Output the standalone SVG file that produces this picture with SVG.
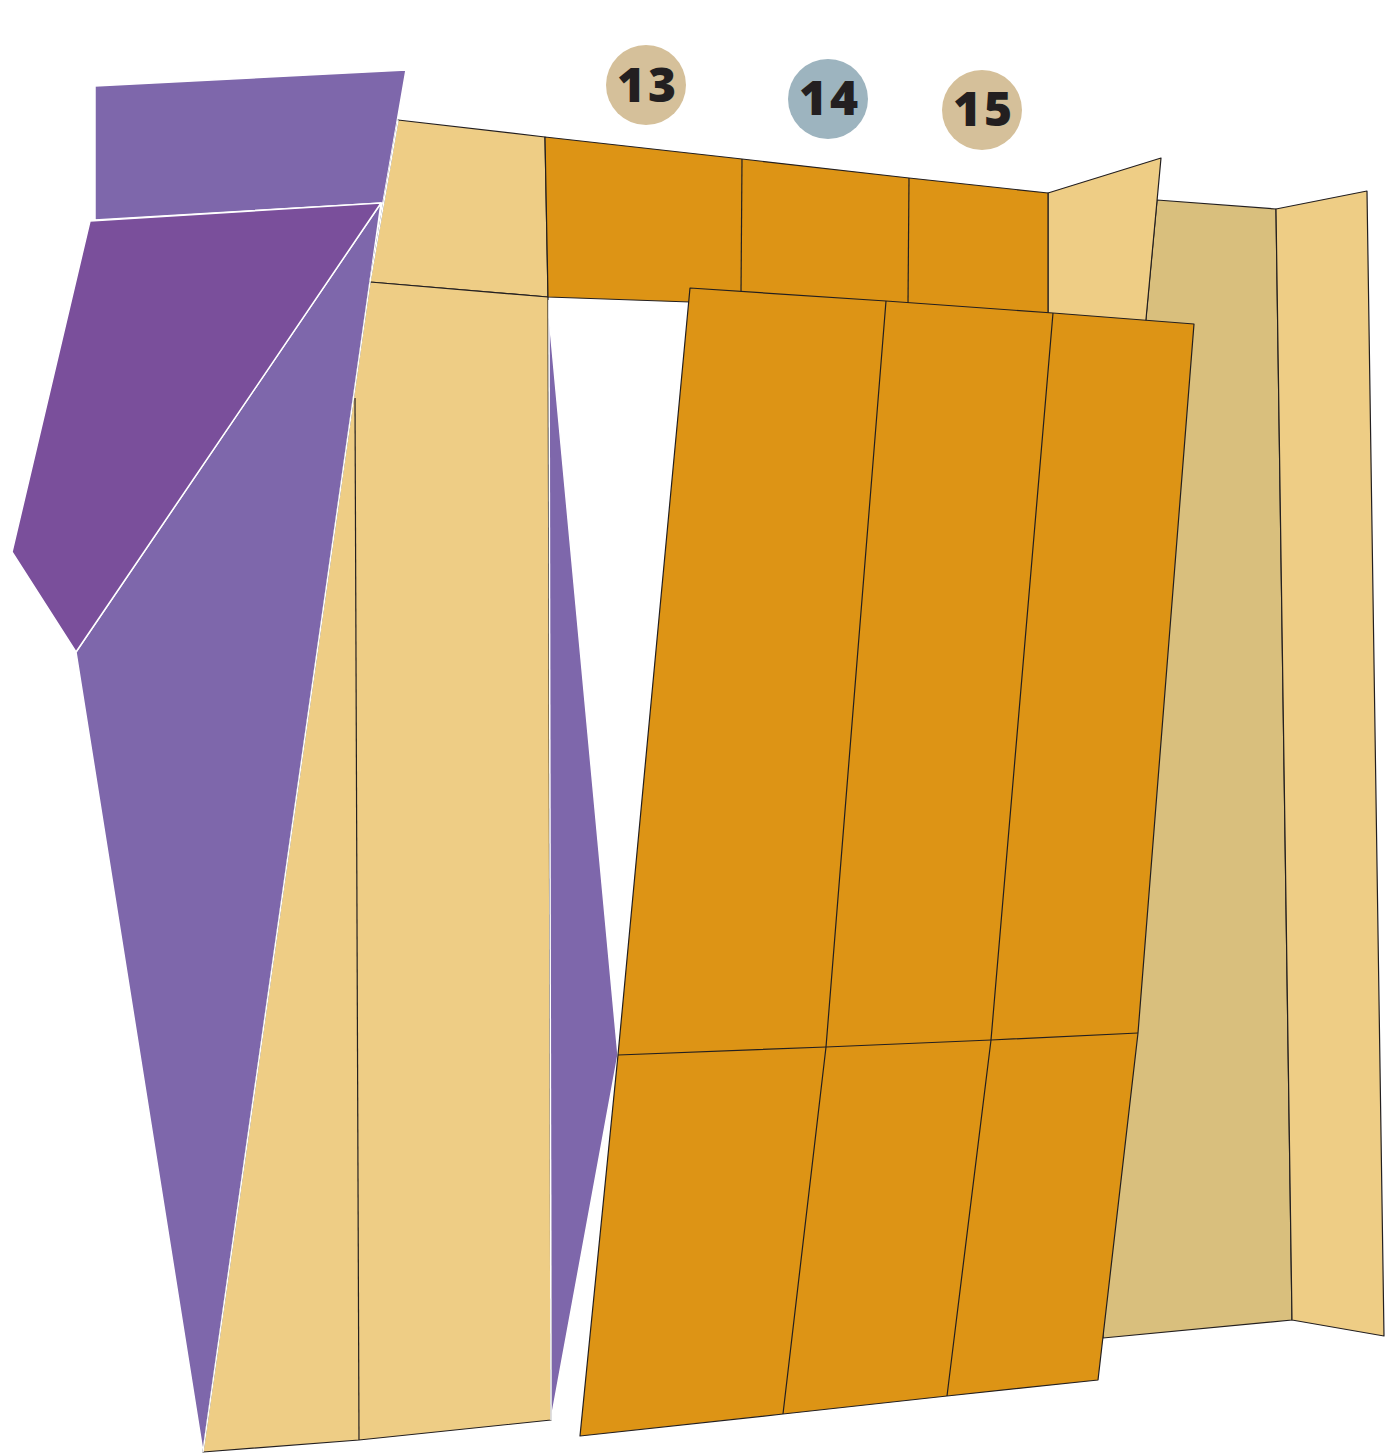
<svg xmlns="http://www.w3.org/2000/svg" width="1386" height="1455" viewBox="0 0 1386 1455">
<style>
.pl{fill:#7e67ab;stroke:#fff;stroke-width:1.5;stroke-linejoin:round}
.pd{fill:#7a4f9b;stroke:#fff;stroke-width:1.5;stroke-linejoin:round}
.tan{fill:#eecd85;stroke:#231f20;stroke-width:1.2;stroke-linejoin:round}
.beige{fill:#d9bf7d;stroke:#231f20;stroke-width:1.2;stroke-linejoin:round}
.or{fill:#dd9415;stroke:#231f20;stroke-width:1.2;stroke-linejoin:round}
.ln{fill:none;stroke:#231f20;stroke-width:1.2}
.wl{fill:none;stroke:#fff;stroke-width:1.5}
.num{font-family:"Open Sans","Noto Sans",sans-serif;font-weight:800;font-size:48px;letter-spacing:3px;fill:#231f20;text-anchor:middle}
</style>
<rect width="1386" height="1455" fill="#fff"/>
<g id="purple">
<polygon class="pl" points="95,86 406,70 383,203 95,220"/>
<polygon class="pl" points="381,203 370,282 203,1452 76,652"/>
<polygon class="pd" points="90,221 381,203 76,652 12,552"/>
<polygon class="pl" points="548,305 618,1055 551,1420"/>
</g>
<g id="right-walls">
<polygon class="beige" points="1157,200 1276,209 1292,1320 1103,1338 1110,700"/>
<polygon class="tan" points="1276,209 1367,191 1384,1336 1292,1320"/>
<polygon class="tan" points="1048,193 1161,158 1145,330 1048,320"/>
</g>
<g id="left-column">
<polygon class="tan" points="398,120 545,137 548,297 370,282"/>
<polygon class="tan" points="370,282 548,297 551,1420 359,1440 203,1452"/>
<line class="ln" x1="355" y1="398" x2="359" y2="1440"/>
<line class="wl" x1="370" y1="282" x2="203" y2="1452"/>
<line class="wl" x1="398" y1="120" x2="370" y2="282"/>
<line class="wl" x1="549" y1="300" x2="551" y2="1420"/>
</g>
<g id="top-band">
<polygon class="or" points="545,137 742,159 909,178 1048,193 1048,320 690,302 548,297"/>
<line class="ln" x1="742" y1="159" x2="741" y2="295"/>
<line class="ln" x1="909" y1="178" x2="908" y2="305"/>
</g>
<g id="main-panel">
<polygon class="or" points="690,288 886,301 1053,313 1194,324 1138,1033 1098,1380 947,1396 783,1414 580,1436 618,1055"/>
<polyline class="ln" points="886,301 826,1047 783,1414"/>
<polyline class="ln" points="1053,313 991,1040 947,1396"/>
<polyline class="ln" points="618,1055 826,1047 991,1040 1138,1033"/>
</g>
<g id="badge-13">
<circle cx="646" cy="85" r="40" fill="#d5c09a"/>
<text class="num" x="648" y="102">13</text>
</g>
<g id="badge-14">
<circle cx="828" cy="99" r="40" fill="#9db4bf"/>
<text class="num" x="830" y="115">14</text>
</g>
<g id="badge-15">
<circle cx="982" cy="110" r="40" fill="#d5c09a"/>
<text class="num" x="984" y="126">15</text>
</g>
</svg>
